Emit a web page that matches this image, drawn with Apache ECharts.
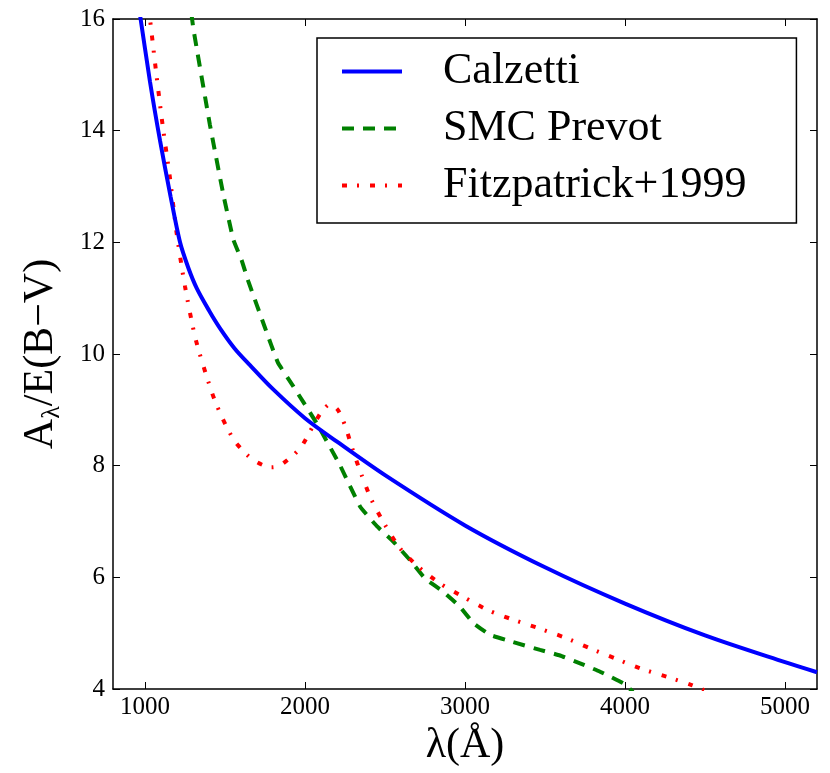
<!DOCTYPE html>
<html>
<head>
<meta charset="utf-8">
<script src="https://cdn.jsdelivr.net/npm/echarts@6/dist/echarts.min.js"></script>
<style>
html,body{margin:0;padding:0;background:#fff;}
#chart{width:830px;height:773px;}
</style>
</head>
<body>
<div id="chart"></div>
<script>
// ---- data ----
const xTicks = [1000, 2000, 3000, 4000, 5000];
const yTicks = [4, 6, 8, 10, 12, 14, 16];

const calzettiX = [950, 969, 1031, 1094, 1160, 1219, 1270, 1323, 1400, 1469, 1560, 1656, 1800, 2000, 2200, 2500, 3000, 3500, 4000, 4500, 5000, 5200];
const calzettiY = [16.4, 16.07, 14.88, 13.82, 12.82, 12.0, 11.55, 11.18, 10.78, 10.46, 10.1, 9.80, 9.37, 8.85, 8.43, 7.83, 6.93, 6.18, 5.53, 4.96, 4.48, 4.3];

const smcX = [1290, 1302, 1406, 1490, 1552, 1604, 1646, 1750, 1830, 1927, 2073, 2220, 2344, 2448, 2552, 2656, 2750, 2865, 2969, 3052, 3156, 3302, 3469, 3594, 3719, 3844, 3990, 4050];
const smcY = [16.1, 15.83, 14.1, 12.85, 12.05, 11.68, 11.3, 10.47, 9.85, 9.42, 8.76, 8.0, 7.27, 6.92, 6.64, 6.31, 5.98, 5.74, 5.47, 5.18, 4.97, 4.84, 4.70, 4.60, 4.46, 4.31, 4.10, 3.95];

const fitzX = [1020, 1031, 1069, 1110, 1156, 1198, 1250, 1318, 1417, 1479, 1563, 1677, 1790, 1844, 1969, 2052, 2100, 2156, 2205, 2250, 2302, 2354, 2417, 2500, 2594, 2708, 2844, 2990, 3146, 3302, 3469, 3625, 3781, 3937, 4094, 4260, 4417, 4520];
const fitzY = [16.2, 16.0, 15.06, 14.1, 13.15, 12.16, 11.21, 10.25, 9.32, 8.88, 8.43, 8.10, 7.97, 8.0, 8.31, 8.72, 8.95, 9.1, 9.0, 8.72, 8.25, 7.83, 7.38, 6.94, 6.52, 6.19, 5.89, 5.65, 5.41, 5.24, 5.08, 4.92, 4.73, 4.55, 4.37, 4.22, 4.07, 3.95];

const seriesNames = ['Calzetti', 'SMC Prevot', 'Fitzpatrick+1999'];

function zip(xs, ys) { return xs.map((x, i) => [x, ys[i]]); }

const serif = "'Liberation Serif'";
const axisLineStyle = { color: '#000', width: 1.5 };
const tickStyle = { show: true, inside: true, length: 7, lineStyle: { color: '#000', width: 1 } };

const chart = echarts.init(document.getElementById('chart'), null, { renderer: 'canvas' });
chart.setOption({
  animation: false,
  backgroundColor: '#fff',
  textStyle: { fontFamily: serif },
  grid: { left: 113, top: 19, right: 13, bottom: 84, containLabel: false },
  xAxis: [
    {
      type: 'value', min: 800, max: 5200, position: 'bottom',
      name: 'λ(Å)', nameLocation: 'middle', nameGap: 35,
      nameTextStyle: { fontFamily: serif, fontSize: 42, color: '#000' },
      axisLine: { show: true, lineStyle: axisLineStyle },
      axisTick: Object.assign({ customValues: xTicks }, tickStyle),
      axisLabel: { customValues: xTicks, formatter: v => String(v), fontFamily: serif, fontSize: 25, color: '#000', margin: 6 },
      splitLine: { show: false }
    },
    {
      type: 'value', min: 800, max: 5200, position: 'top',
      axisLine: { show: true, lineStyle: axisLineStyle },
      axisTick: Object.assign({ customValues: xTicks }, tickStyle),
      axisLabel: { show: false },
      splitLine: { show: false }
    }
  ],
  yAxis: [
    {
      type: 'value', min: 4, max: 16, interval: 2, position: 'left',
      name: '{a|A}{s|λ}{a|/E(B−V)}', nameLocation: 'middle', nameGap: 48, nameRotate: 90,
      nameTextStyle: {
        rich: {
          a: { fontFamily: serif, fontSize: 42, color: '#000', lineHeight: 48 },
          s: { fontFamily: serif, fontSize: 26, color: '#000', lineHeight: 30, verticalAlign: 'bottom' }
        }
      },
      axisLine: { show: true, lineStyle: axisLineStyle },
      axisTick: Object.assign({ customValues: yTicks }, tickStyle),
      axisLabel: { customValues: yTicks, fontFamily: serif, fontSize: 25, color: '#000', margin: 8 },
      splitLine: { show: false }
    },
    {
      type: 'value', min: 4, max: 16, interval: 2, position: 'right',
      axisLine: { show: true, lineStyle: axisLineStyle },
      axisTick: Object.assign({ customValues: yTicks }, tickStyle),
      axisLabel: { show: false },
      splitLine: { show: false }
    }
  ],
  legend: {
    left: 317, top: 38, orient: 'vertical',
    itemWidth: 60, itemHeight: 2, itemGap: 0,
    padding: [5, 50, 9, 23],
    borderColor: '#000', borderWidth: 1.5, backgroundColor: '#fff',
    lineStyle: { width: 4 },
    itemStyle: { opacity: 0 },
    formatter: '{t|{name}}',
    textStyle: {
      fontFamily: serif, fontSize: 44, color: '#000', lineHeight: 57,
      rich: { t: { fontFamily: serif, fontSize: 44, color: '#000', lineHeight: 57, padding: [0, 0, 0, 36] } }
    },
    data: seriesNames
  },
  series: [
    {
      name: seriesNames[0], type: 'line', data: zip(calzettiX, calzettiY),
      showSymbol: false, symbol: 'none', smooth: 0.3, clip: true, z: 3,
      lineStyle: { color: '#0000ff', width: 4 }, itemStyle: { color: '#0000ff' }
    },
    {
      name: seriesNames[1], type: 'line', data: zip(smcX, smcY),
      showSymbol: false, symbol: 'none', smooth: 0.1, clip: true, z: 2,
      lineStyle: { color: '#008000', width: 4, type: [12, 9] }, itemStyle: { color: '#008000' }
    },
    {
      name: seriesNames[2], type: 'line', data: zip(fitzX, fitzY),
      showSymbol: false, symbol: 'none', smooth: 0.25, clip: true, z: 2,
      lineStyle: { color: '#ff0000', width: 4, type: [5, 10, 2, 11] }, itemStyle: { color: '#ff0000' }
    }
  ]
});
</script>
</body>
</html>
